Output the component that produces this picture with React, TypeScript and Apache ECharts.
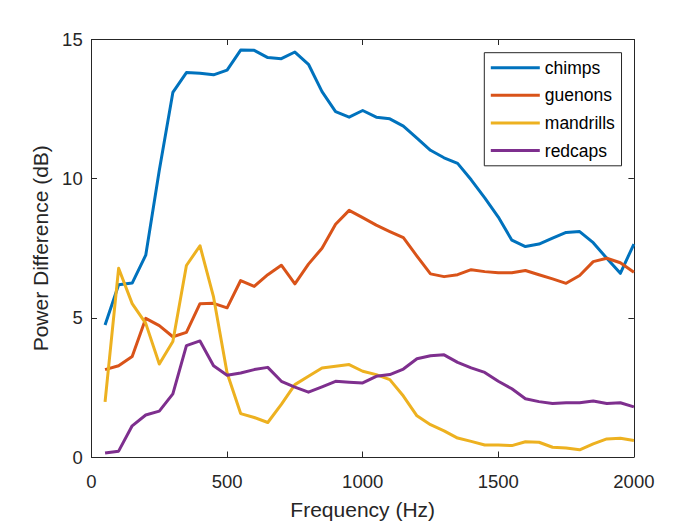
import React, { useEffect, useRef } from "react";
import * as echarts from "echarts";

const frequencies = [
  50, 100, 150, 200, 250, 300, 350, 400, 450, 500,
  550, 600, 650, 700, 750, 800, 850, 900, 950, 1000,
  1050, 1100, 1150, 1200, 1250, 1300, 1350, 1400, 1450, 1500,
  1550, 1600, 1650, 1700, 1750, 1800, 1850, 1900, 1950, 2000,
];

const chimps = [
  4.74, 6.19, 6.25, 7.25, 10.3, 13.1, 13.81, 13.79, 13.73, 13.9,
  14.62, 14.61, 14.35, 14.31, 14.55, 14.11, 13.13, 12.41, 12.21, 12.45,
  12.21, 12.15, 11.89, 11.46, 11.02, 10.75, 10.55, 9.96, 9.31, 8.62,
  7.79, 7.56, 7.65, 7.86, 8.07, 8.1, 7.7, 7.14, 6.6, 7.65,
];

const guenons = [
  3.14, 3.28, 3.61, 4.98, 4.72, 4.32, 4.48, 5.51, 5.52, 5.36,
  6.34, 6.13, 6.55, 6.89, 6.22, 6.93, 7.5, 8.36, 8.86, 8.6,
  8.33, 8.1, 7.88, 7.22, 6.58, 6.48, 6.55, 6.73, 6.66, 6.62,
  6.62, 6.7, 6.55, 6.4, 6.24, 6.52, 7.02, 7.14, 6.98, 6.64,
];

const mandrills = [
  1.98, 6.78, 5.51, 4.8, 3.34, 4.15, 6.88, 7.59, 5.75, 3.02,
  1.56, 1.42, 1.24, 1.89, 2.6, 2.9, 3.2, 3.26, 3.32, 3.08,
  2.96, 2.78, 2.19, 1.48, 1.16, 0.94, 0.68, 0.56, 0.43, 0.43,
  0.41, 0.55, 0.53, 0.35, 0.32, 0.26, 0.47, 0.65, 0.67, 0.59,
];

const redcaps = [
  0.14, 0.21, 1.12, 1.51, 1.65, 2.27, 4.0, 4.17, 3.28, 2.94,
  3.02, 3.14, 3.22, 2.72, 2.51, 2.33, 2.52, 2.72, 2.69, 2.66,
  2.9, 2.96, 3.16, 3.53, 3.64, 3.67, 3.4, 3.2, 3.04, 2.72,
  2.45, 2.09, 1.99, 1.92, 1.95, 1.95, 2.01, 1.92, 1.95, 1.8,
];

const seriesNames = ["chimps", "guenons", "mandrills", "redcaps"];
const seriesValues = [chimps, guenons, mandrills, redcaps];
const seriesColors = ["#0072BD", "#D95319", "#EDB120", "#7E2F8E"];

const FONT = "'Liberation Sans', Arial, Helvetica, sans-serif";
const AXIS_COLOR = "#262626";

export default function App() {
  const ref = useRef<HTMLDivElement>(null);

  useEffect(() => {
    if (!ref.current) return;
    const chart = echarts.init(ref.current, undefined, { renderer: "svg" });

    const axisCommon = {
      type: "value" as const,
      axisLine: { show: true, onZero: false, lineStyle: { color: AXIS_COLOR, width: 1 } },
      axisTick: { show: true, inside: true, length: 5.5, lineStyle: { color: AXIS_COLOR, width: 1 } },
      splitLine: { show: false },
    };

    chart.setOption({
      animation: false,
      backgroundColor: "#ffffff",
      grid: { left: 91.5, right: 66.1, top: 39.5, bottom: 63.5, containLabel: false },
      xAxis: [
        {
          ...axisCommon,
          position: "bottom",
          min: 0,
          max: 2000,
          interval: 500,
          axisLabel: {
            color: AXIS_COLOR,
            fontSize: 18.5,
            fontFamily: FONT,
            margin: 15,
            formatter: (v: number) => String(v),
          },
          name: "Frequency (Hz)",
          nameLocation: "middle",
          nameGap: 42,
          nameTextStyle: { color: AXIS_COLOR, fontSize: 21, fontFamily: FONT },
        },
        {
          ...axisCommon,
          position: "top",
          min: 0,
          max: 2000,
          interval: 500,
          axisLabel: { show: false },
        },
      ],
      yAxis: [
        {
          ...axisCommon,
          position: "left",
          min: 0,
          max: 15,
          interval: 5,
          axisLabel: {
            color: AXIS_COLOR,
            fontSize: 18.5,
            fontFamily: FONT,
            margin: 8.8,
            formatter: (v: number) => String(v),
          },
          name: "Power Difference (dB)",
          nameLocation: "middle",
          nameGap: 31,
          nameTextStyle: { color: AXIS_COLOR, fontSize: 21, fontFamily: FONT },
        },
        {
          ...axisCommon,
          position: "right",
          min: 0,
          max: 15,
          interval: 5,
          axisLabel: { show: false },
        },
      ],
      legend: {
        show: true,
        orient: "vertical",
        left: 484.3,
        top: 52.7,
        padding: [6, 6.7, 6.3, 5],
        itemWidth: 49,
        itemHeight: 14,
        itemGap: 9.6,
        borderColor: AXIS_COLOR,
        borderWidth: 1,
        backgroundColor: "#ffffff",
        selectedMode: false,
        itemStyle: { opacity: 0 },
        lineStyle: { width: 3 },
        textStyle: { color: "#000000", fontSize: 17.5, fontFamily: FONT },
        data: seriesNames,
      },
      series: seriesNames.map((name, i) => ({
        name,
        type: "line",
        xAxisIndex: 0,
        yAxisIndex: 0,
        symbol: "none",
        showSymbol: false,
        data: frequencies.map((f, j) => [f, seriesValues[i][j]]),
        lineStyle: { color: seriesColors[i], width: 3, join: "round" },
        itemStyle: { color: seriesColors[i] },
        emphasis: { disabled: true },
      })),
    });

    return () => chart.dispose();
  }, []);

  return (
    <div
      ref={ref}
      style={{ position: "fixed", left: 0, top: 0, width: 700, height: 525 }}
    />
  );
}
